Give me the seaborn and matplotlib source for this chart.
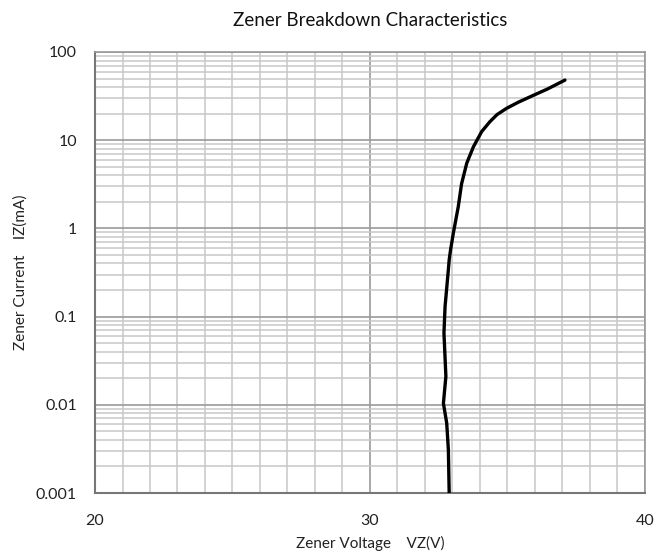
#%% Zener breakdown characteristics

import pandas as pd
import matplotlib.pyplot as plt
import matplotlib.ticker as mticker
import seaborn as sns

#%% Valores

tensao_vz = [32.88, 32.85, 32.79, 32.67, 32.76, 32.69, 32.73, 32.85, 32.88,
             32.93, 33.03, 33.21, 33.33, 33.52, 33.76, 34.06, 34.36, 34.62,
             34.97, 35.40, 35.82, 36.45, 37.09]
corrente_iz = [0.001, 0.0031, 0.0062, 0.0104, 0.021, 0.065, 0.13, 0.34, 0.44,
               0.57, 0.88, 1.76, 3.2, 5.5, 8.4, 12.5, 16.2, 19.5, 23, 27,
               31, 38, 48]

df = pd.DataFrame({'VZ': tensao_vz, 'IZ': corrente_iz})

y_ticks = [0.001, 0.01, 0.1, 1, 10, 100]
y_labels = ['0.001', '0.01', '0.1', '1', '10', '100']
x_ticks = [20, 30, 40]

#%% Grafico

sns.set_style('white')
plt.rcParams['font.family'] = ['Lato', 'DejaVu Sans']

fig = plt.figure(figsize=(6.57, 5.56), dpi=100, facecolor='white')
ax = fig.add_axes([0.1446, 0.1133, 0.8371, 0.7932])

sns.lineplot(data=df, x='VZ', y='IZ', sort=False, estimator=None,
             color='black', linewidth=2.4, ax=ax, zorder=5)

ax.set_yscale('log')
ax.set_xlim(20, 40)
ax.set_ylim(0.001, 100)

ax.set_xticks(x_ticks)
ax.xaxis.set_minor_locator(mticker.MultipleLocator(1))
ax.set_yticks(y_ticks)
ax.set_yticklabels(y_labels)
ax.yaxis.set_minor_locator(mticker.LogLocator(base=10, subs=range(2, 10), numticks=20))
ax.yaxis.set_minor_formatter(mticker.NullFormatter())

ax.grid(which='major', color='#9a9a9a', linewidth=1.2)
ax.grid(which='minor', color='#c8c8c8', linewidth=1.1)
ax.set_axisbelow(True)

ax.tick_params(which='both', length=0)
ax.tick_params(axis='x', pad=15, labelsize=11.5, labelcolor='#222222')
ax.tick_params(axis='y', pad=13, labelsize=11.5, labelcolor='#222222')

for lado in ['left', 'bottom']:
    ax.spines[lado].set_color('#777777')
    ax.spines[lado].set_linewidth(1.5)
for lado in ['top', 'right']:
    ax.spines[lado].set_color('#999999')
    ax.spines[lado].set_linewidth(1.2)

ax.set_xlabel('Zener Voltage    VZ(V)', fontsize=11, labelpad=6, color='#222222')
ax.set_ylabel('Zener Current    IZ(mA)', fontsize=11, labelpad=6, color='#222222')
ax.set_title('Zener Breakdown Characteristics', fontsize=13.5, pad=19, color='#111111')

fig.savefig('out.png', dpi=100, facecolor='white')
